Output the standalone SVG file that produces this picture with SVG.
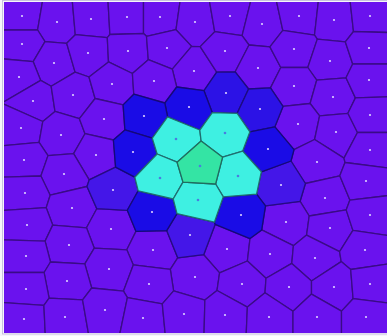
<svg xmlns="http://www.w3.org/2000/svg" width="387" height="336" viewBox="0 0 387 336">
<style>
polygon{fill:#6a12ee;stroke:#3a0b86;stroke-width:1.3;stroke-linejoin:round}
polygon.b1{fill:#1a0ce6;stroke:#14087a}
polygon.b2{fill:#2c12e6;stroke:#1c0a80}
polygon.b3{fill:#4416e8;stroke:#260a84}
polygon.cy{fill:#3ef0e2;stroke:#1f6e70}
polygon.gr{fill:#34e4a4;stroke:#1f6e60}
.dots circle{fill:#dcd0ff}
.dots circle.in{fill:#4a7ce0}
</style>
<defs><clipPath id="frame"><rect x="4" y="2" width="383" height="331"/></clipPath></defs>
<rect width="387" height="336" fill="#f6f5fa"/>
<rect x="2.5" y="0.5" width="386" height="333.5" fill="none" stroke="#c8c2de"/>
<g id="cells" clip-path="url(#frame)">
<polygon id="a1" points="-6,-8 44.1,-8 37.6,30 -6,30"/>
<polygon id="a2" points="44.1,-8 71.5,-8 75.3,34.7 66.7,43.3 45,41.7 37.6,30"/>
<polygon id="a3" points="71.5,-8 107.5,-8 109.9,34.5 107.3,37.6 75.3,34.7"/>
<polygon id="a4" points="107.5,-8 143.5,-8 143.5,33.5 109.9,34.5"/>
<polygon id="a5" points="143.5,-8 181.4,-8 176,29.7 146.5,36.3 143.5,33.5"/>
<polygon id="a6" points="181.4,-8 207.9,-8 214.7,31.7 200.2,46.6 191.6,46.4 176,29.7"/>
<polygon id="a7" points="207.9,-8 253,-8 242.1,35.6 214.7,31.7"/>
<polygon id="a8" points="253,-8 274.5,-8 282.8,30.4 269.9,46.9 249,45 242.1,35.6"/>
<polygon id="a9" points="274.5,-8 319.4,-8 314.5,35.2 282.8,30.4"/>
<polygon id="a10" points="319.4,-8 349.1,-8 353.5,31.5 345.3,41.8 317.3,39.1 314.5,35.2"/>
<polygon id="a11" points="349.1,-8 396,-8 396,32.8 353.5,31.5"/>
<polygon id="b1" points="37.6,30 45,41.7 33.2,61.7 -6,58.1 -6,30"/>
<polygon id="b2" points="45,41.7 66.7,43.3 75.1,72.1 51.2,86.3 40.7,80.4 33.2,61.7"/>
<polygon id="b3" points="75.3,34.7 107.3,37.6 108.5,61.9 89,77 75.1,72.1 66.7,43.3"/>
<polygon id="b4" points="109.9,34.5 143.5,33.5 146.5,36.3 148.3,59.7 132.4,73.5 108.5,61.9 107.3,37.6"/>
<polygon id="b5" points="146.5,36.3 176,29.7 191.6,46.4 172.3,69.1 148.3,59.7"/>
<polygon id="b6" points="191.6,46.4 200.2,46.6 216.7,72.2 204,90.7 176.7,87 172.3,69.1"/>
<polygon id="b7" points="200.2,46.6 214.7,31.7 242.1,35.6 249,45 235.2,71.8 216.7,72.2"/>
<polygon id="b8" points="249,45 269.9,46.9 280.8,67.5 270.5,87.9 248.6,89 235.2,71.8"/>
<polygon id="b9" points="282.8,30.4 314.5,35.2 317.3,39.1 307.8,67.5 280.8,67.5 269.9,46.9"/>
<polygon id="b10" points="317.3,39.1 345.3,41.8 352.7,64 346,77.8 316.7,80.2 307.8,67.5"/>
<polygon id="b11" points="353.5,31.5 396,32.8 396,64 352.7,64 345.3,41.8"/>
<polygon id="c1" points="33.2,61.7 40.7,80.4 1.6,103.2 -6,103.5 -6,58.1"/>
<polygon id="c2" points="40.7,80.4 51.2,86.3 55,111.4 42.8,121.5 1.6,103.2"/>
<polygon id="c3" points="75.1,72.1 89,77 95.1,98.5 79.4,118.7 55,111.4 51.2,86.3"/>
<polygon id="c4" points="108.5,61.9 132.4,73.5 133.8,94.2 123.1,104.9 95.1,98.5 89,77"/>
<polygon id="c5" points="148.3,59.7 172.3,69.1 176.7,87 164.8,103 133.8,94.2 132.4,73.5"/>
<polygon id="c9" points="280.8,67.5 307.8,67.5 316.7,80.2 310.1,103.5 283,106.4 270.5,87.9"/>
<polygon id="c10" points="316.7,80.2 346,77.8 355.4,97.9 347.9,113.3 319.6,115.8 310.1,103.5"/>
<polygon id="c11" points="352.7,64 396,64 396,96.7 355.4,97.9 346,77.8"/>
<polygon id="d1" points="1.6,103.2 42.8,121.5 39.1,142.4 -6,146.6 -6,103.5"/>
<polygon id="d2" points="42.8,121.5 55,111.4 79.4,118.7 85,133.7 73.6,153.6 48,155.6 39.1,142.4"/>
<polygon id="d3" points="79.4,118.7 95.1,98.5 123.1,104.9 124.9,129.9 113.4,140 85,133.7"/>
<polygon id="d8" points="283,106.4 310.1,103.5 319.6,115.8 314.6,139.5 294,149.7 274.9,126.8"/>
<polygon id="d9" points="319.6,115.8 347.9,113.3 357.5,132.5 344,158.1 314.6,139.5"/>
<polygon id="d10" points="355.4,97.9 396,96.7 396,132.5 357.5,132.5 347.9,113.3"/>
<polygon id="e1" points="39.1,142.4 48,155.6 40.9,176 -6,177.4 -6,146.6"/>
<polygon id="e2" points="85,133.7 113.4,140 115.6,167.1 89.2,179.9 73.6,153.6"/>
<polygon id="e5" points="294,149.7 314.6,139.5 344,158.1 345,162.5 339.8,175.8 305.4,183.5 291,161"/>
<polygon id="e6" points="357.5,132.5 396,132.5 396,169.1 345,162.5 344,158.1"/>
<polygon id="f1" points="48,155.6 73.6,153.6 89.2,179.9 87,186.5 50.2,195.2 40.9,176"/>
<polygon id="f6" points="305.4,183.5 339.8,175.8 349.9,200.1 346.2,209.9 309.2,216 300.1,201.3"/>
<polygon id="f7" points="345,162.5 396,169.1 396,194.7 349.9,200.1 339.8,175.8"/>
<polygon id="f8" points="40.9,176 50.2,195.2 46.2,207.7 -6,211 -6,177.4"/>
<polygon id="g1" points="50.2,195.2 87,186.5 96.8,208.7 86.5,227.8 52.7,225.1 46.2,207.7"/>
<polygon id="g3" points="46.2,207.7 52.7,225.1 45.1,241.1 -6,239.5 -6,211"/>
<polygon id="g4" points="96.8,208.7 127.3,210.3 136,231.4 126.8,249.8 94.3,248.2 86.5,227.8"/>
<polygon id="g7" points="265.5,205.9 300.1,201.3 309.2,216 306.6,235.1 293.4,245.7 261.7,229.9"/>
<polygon id="g8" points="309.2,216 346.2,209.9 352.9,230.4 339.6,251.6 306.6,235.1"/>
<polygon id="g9" points="349.9,200.1 396,194.7 396,236.6 352.9,230.4 346.2,209.9"/>
<polygon id="h1" points="52.7,225.1 86.5,227.8 94.3,248.2 84.8,263.9 50.5,262 45.1,241.1"/>
<polygon id="h2" points="136,231.4 166.7,230.6 177.7,257.8 170.3,269.3 133.3,264.9 126.8,249.8"/>
<polygon id="h3" points="45.1,241.1 50.5,262 44.1,272.5 -6,272.5 -6,239.5"/>
<polygon id="h4" points="94.3,248.2 126.8,249.8 133.3,264.9 123.5,291.1 91.7,288 84.8,263.9"/>
<polygon id="h5" points="215.2,224.3 250,238.6 247.4,261 219.6,272.9 203.7,254.7"/>
<polygon id="h6" points="250,238.6 261.7,229.9 293.4,245.7 291.8,263.4 266,278.3 247.4,261"/>
<polygon id="h7" points="306.6,235.1 339.6,251.6 341.2,261.6 311.5,281 291.8,263.4 293.4,245.7"/>
<polygon id="h8" points="352.9,230.4 396,236.6 396,262.8 350.7,269.5 341.2,261.6 339.6,251.6"/>
<polygon id="i1" points="177.7,257.8 203.7,254.7 219.6,272.9 217,290.5 204.9,300.1 173.6,290.8 170.3,269.3"/>
<polygon id="i2" points="50.5,262 84.8,263.9 91.7,288 82.6,299.9 49.1,298.1 44.1,272.5"/>
<polygon id="i3" points="133.3,264.9 170.3,269.3 173.6,290.8 162.3,303.9 127.4,297.7 123.5,291.1"/>
<polygon id="i4" points="44.1,272.5 49.1,298.1 43.9,305.3 -6,302 -6,272.5"/>
<polygon id="i5" points="247.4,261 266,278.3 265,292.7 247.4,307.1 217,290.5 219.6,272.9"/>
<polygon id="i6" points="266,278.3 291.8,263.4 311.5,281 311.5,294.1 293,311.3 265,292.7"/>
<polygon id="i7" points="311.5,281 341.2,261.6 350.7,269.5 353.1,298.7 341.5,311.1 311.5,294.1"/>
<polygon id="i8" points="350.7,269.5 396,262.8 396,303.9 353.1,298.7"/>
<polygon id="j1" points="43.9,305.3 45.7,343 -6,343 -6,302"/>
<polygon id="j2" points="49.1,298.1 82.6,299.9 90.1,343 45.7,343 43.9,305.3"/>
<polygon id="j3" points="91.7,288 123.5,291.1 127.4,297.7 117.9,343 90.1,343 82.6,299.9"/>
<polygon id="j4" points="127.4,297.7 162.3,303.9 166.1,343 117.9,343"/>
<polygon id="j5" points="162.3,303.9 173.6,290.8 204.9,300.1 203.8,343 166.1,343"/>
<polygon id="j6" points="204.9,300.1 217,290.5 247.4,307.1 245.8,343 203.8,343"/>
<polygon id="j7" points="247.4,307.1 265,292.7 293,311.3 293,343 245.8,343"/>
<polygon id="j8" points="293,311.3 311.5,294.1 341.5,311.1 341.5,343 293,343"/>
<polygon id="j9" points="341.5,311.1 353.1,298.7 396,303.9 396,343 341.5,343"/>
<polygon id="f2" class="b3" points="89.2,179.9 115.6,167.1 134.8,177.2 138.2,190.8 127.3,210.3 96.8,208.7 87,186.5"/>
<polygon id="f5" class="b3" points="261.3,171.8 291,161 305.4,183.5 300.1,201.3 265.5,205.9 256.6,194.2"/>
<polygon id="g5" class="b3" points="177,213.6 214.4,222.2 215.2,224.3 203.7,254.7 177.7,257.8 166.7,230.6"/>
<polygon id="c7" class="b2" points="216.7,72.2 235.2,71.8 248.6,89 237.2,113.3 212.3,112.7 204,90.7"/>
<polygon id="c8" class="b2" points="248.6,89 270.5,87.9 283,106.4 274.9,126.8 249.9,131.8 237.2,113.3"/>
<polygon id="c6" class="b1" points="176.7,87 204,90.7 212.3,112.7 199.8,130 167.6,116.9 164.8,103"/>
<polygon id="d4" class="b1" points="123.1,104.9 133.8,94.2 164.8,103 167.6,116.9 152.3,138.2 124.9,129.9"/>
<polygon id="e3" class="b1" points="124.9,129.9 152.3,138.2 157.1,154 134.8,177.2 115.6,167.1 113.4,140"/>
<polygon id="d7" class="b1" points="249.9,131.8 274.9,126.8 294,149.7 291,161 261.3,171.8 242.7,151.1"/>
<polygon id="g2" class="b1" points="138.2,190.8 173.2,199 177,213.6 166.7,230.6 136,231.4 127.3,210.3"/>
<polygon id="g6" class="b1" points="223.3,196.8 256.6,194.2 265.5,205.9 261.7,229.9 250,238.6 215.2,224.3 214.4,222.2"/>
<polygon id="d5" class="cy" points="167.6,116.9 199.8,130 201.1,140.9 177.1,162.2 157.1,154 152.3,138.2"/>
<polygon id="d6" class="cy" points="199.8,130 212.3,112.7 237.2,113.3 249.9,131.8 242.7,151.1 222.6,157.2 201.1,140.9"/>
<polygon id="f3" class="cy" points="157.1,154 177.1,162.2 183,182.1 173.2,199 138.2,190.8 134.8,177.2"/>
<polygon id="f4" class="cy" points="222.6,157.2 242.7,151.1 261.3,171.8 256.6,194.2 223.3,196.8 215.6,184"/>
<polygon id="f9" class="cy" points="183,182.1 215.6,184 223.3,196.8 214.4,222.2 177,213.6 173.2,199"/>
<polygon id="e4" class="gr" points="201.1,140.9 222.6,157.2 215.6,184 183,182.1 177.1,162.2"/>
</g>
<g id="seeds" class="dots">
<circle cx="22" cy="16" r="1.1"/><circle cx="57" cy="22" r="1.1"/><circle cx="91" cy="19" r="1.1"/><circle cx="127" cy="17" r="1.1"/><circle cx="160" cy="17" r="1.1"/><circle cx="195" cy="22" r="1.1"/><circle cx="230" cy="16" r="1.1"/><circle cx="262" cy="24" r="1.1"/><circle cx="299" cy="16" r="1.1"/><circle cx="334" cy="20" r="1.1"/><circle cx="370" cy="16" r="1.1"/>
<circle cx="22" cy="44" r="1.1"/><circle cx="54" cy="63" r="1.1"/><circle cx="88" cy="53" r="1.1"/><circle cx="128" cy="51" r="1.1"/><circle cx="167" cy="48" r="1.1"/><circle cx="194" cy="71" r="1.1"/><circle cx="225" cy="51" r="1.1"/><circle cx="258" cy="68" r="1.1"/><circle cx="294" cy="49" r="1.1"/><circle cx="330" cy="61" r="1.1"/><circle cx="369" cy="48" r="1.1"/>
<circle cx="19" cy="77" r="1.1"/><circle cx="33" cy="101" r="1.1"/><circle cx="73" cy="95" r="1.1"/><circle cx="112" cy="84" r="1.1"/><circle cx="154" cy="81" r="1.1"/><circle cx="189" cy="107" r="1.1"/><circle cx="226" cy="93" r="1.1"/><circle cx="260" cy="109" r="1.1"/><circle cx="294" cy="86" r="1.1"/><circle cx="333" cy="97" r="1.1"/><circle cx="369" cy="80" r="1.1"/>
<circle cx="21" cy="128" r="1.1"/><circle cx="61" cy="135" r="1.1"/><circle cx="104" cy="119" r="1.1"/><circle cx="144" cy="116" r="1.1"/><circle class="in" cx="176" cy="139" r="1.3"/><circle class="in" cx="225" cy="133" r="1.3"/><circle cx="268" cy="149" r="1.1"/><circle cx="298" cy="124" r="1.1"/><circle cx="336" cy="132" r="1.1"/><circle cx="370" cy="115" r="1.1"/>
<circle cx="24" cy="160" r="1.1"/><circle cx="96" cy="155" r="1.1"/><circle cx="133" cy="152" r="1.1"/><circle class="in" cx="200" cy="166" r="1.3"/><circle cx="317" cy="162" r="1.1"/><circle cx="370" cy="150" r="1.1"/>
<circle cx="64" cy="174" r="1.1"/><circle cx="113" cy="190" r="1.1"/><circle class="in" cx="160" cy="178" r="1.3"/><circle class="in" cx="238" cy="176" r="1.3"/><circle cx="281" cy="185" r="1.1"/><circle cx="325" cy="198" r="1.1"/><circle cx="366" cy="181" r="1.1"/><circle cx="25" cy="193" r="1.1"/><circle class="in" cx="198" cy="200" r="1.3"/>
<circle cx="72" cy="208" r="1.1"/><circle cx="152" cy="212" r="1.1"/><circle cx="27" cy="225" r="1.1"/><circle cx="111" cy="229" r="1.1"/><circle cx="190" cy="235" r="1.1"/><circle cx="241" cy="215" r="1.1"/><circle cx="286" cy="222" r="1.1"/><circle cx="330" cy="228" r="1.1"/><circle cx="370" cy="215" r="1.1"/>
<circle cx="69" cy="245" r="1.1"/><circle cx="153" cy="250" r="1.1"/><circle cx="26" cy="256" r="1.1"/><circle cx="109" cy="269" r="1.1"/><circle cx="227" cy="249" r="1.1"/><circle cx="270" cy="254" r="1.1"/><circle cx="315" cy="258" r="1.1"/><circle cx="365" cy="250" r="1.1"/>
<circle cx="195" cy="277" r="1.1"/><circle cx="67" cy="281" r="1.1"/><circle cx="149" cy="284" r="1.1"/><circle cx="26" cy="289" r="1.1"/><circle cx="242" cy="284" r="1.1"/><circle cx="289" cy="287" r="1.1"/><circle cx="334" cy="287" r="1.1"/><circle cx="370" cy="284" r="1.1"/>
<circle cx="24" cy="319" r="1.1"/><circle cx="65" cy="317" r="1.1"/><circle cx="105" cy="310" r="1.1"/><circle cx="143" cy="318" r="1.1"/><circle cx="184" cy="314" r="1.1"/><circle cx="225" cy="315" r="1.1"/><circle cx="269" cy="317" r="1.1"/><circle cx="317" cy="317" r="1.1"/><circle cx="366" cy="317" r="1.1"/>
</g>
</svg>
